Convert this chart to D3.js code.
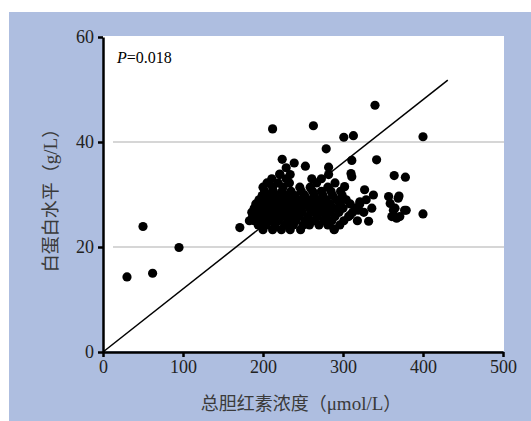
<!DOCTYPE html>
<html>
<head>
<meta charset="utf-8">
<script src="https://cdn.jsdelivr.net/npm/d3@7"></script>
<style>
  body { margin: 0; background: #fff; }
  svg { display: block; }
</style>
</head>
<body>
<div id="chart"></div>
<script>
const xTicks = [0, 100, 200, 300, 400, 500];
const yTicks = [0, 20, 40, 60];
const gridValues = [20, 40];

// outliers
const outX = [30, 50, 62, 95, 171, 212, 263, 301, 313, 340, 400, 279, 342, 311, 224, 239, 253, 282, 364, 378, 310, 229, 221,
  400, 332, 289, 302, 327, 338, 357, 370, 359, 363, 379, 363, 371, 336, 319, 309, 321, 311, 369, 365, 377, 361, 367];
const outY = [14.3, 23.9, 15.0, 19.9, 23.7, 42.5, 43.1, 40.9, 41.2, 47.0, 41.0, 38.7, 36.6, 36.5, 36.7, 36.0, 35.4, 35.2, 33.6, 33.3, 34.0, 35.1, 33.9,
  26.3, 24.9, 23.4, 31.5, 30.9, 29.9, 29.6, 29.7, 28.3, 27.0, 27.0, 25.8, 25.8, 27.4, 27.0, 26.1, 28.6, 33.4, 29.3, 27.4, 27.0, 25.8, 25.5];

// dense cluster, row by row
const clusterRows = [
  [23.3, [200, 212, 223, 234, 247, 289]],
  [24.2, [194, 204, 215, 227, 238, 250, 258, 270, 281, 296]],
  [25.0, [183, 189, 199, 209, 219, 231, 241, 253, 264, 276, 286, 301, 318]],
  [25.8, [187, 196, 205, 214, 224, 235, 245, 256, 268, 279, 290, 307]],
  [26.6, [186, 193, 202, 212, 220, 229, 240, 249, 261, 272, 283, 295, 312, 326]],
  [27.4, [189, 198, 207, 216, 226, 236, 247, 258, 266, 277, 288, 300, 316]],
  [28.2, [191, 201, 211, 221, 231, 242, 252, 263, 274, 284, 296, 309, 321]],
  [29.0, [195, 205, 215, 225, 236, 246, 257, 268, 279, 292, 304, 329]],
  [29.8, [199, 209, 219, 229, 240, 252, 264, 275, 287, 299]],
  [30.6, [202, 213, 224, 235, 248, 262, 273, 285, 297]],
  [31.4, [200, 212, 225, 246, 259, 281]],
  [32.2, [205, 219, 233, 267, 290]],
  [33.0, [211, 229, 261, 273]],
  [33.8, [221, 234, 282]]
];

const fitX = [0, 431];
const fitY = [0, 51.8];

const points = outX.map((x, i) => ({ x: x, y: outY[i] }));
clusterRows.forEach(r => r[1].forEach(x => points.push({ x: x, y: r[0] })));

const width = 531, height = 421;
const svg = d3.select("#chart").append("svg")
  .attr("width", width)
  .attr("height", height);

svg.append("rect")
  .attr("x", 9).attr("y", 12)
  .attr("width", width - 9).attr("height", height - 12)
  .attr("fill", "#aebee0");

const x = d3.scaleLinear().domain([0, 500]).range([103, 503]);
const y = d3.scaleLinear().domain([0, 60]).range([352, 37]);

svg.append("rect")
  .attr("x", 103).attr("y", 36)
  .attr("width", 401).attr("height", 315)
  .attr("fill", "#fff");

svg.selectAll(".grid")
  .data(gridValues)
  .enter().append("line")
  .attr("x1", 113).attr("x2", 504)
  .attr("y1", d => y(d)).attr("y2", d => y(d))
  .attr("stroke", "#d6d6d6")
  .attr("stroke-width", 2);

const serif = "'Liberation Serif', 'DejaVu Serif', serif";
const cjk = "'Noto Sans CJK SC', sans-serif";

const xAxis = svg.append("g")
  .attr("transform", `translate(0,${y(0)})`)
  .call(d3.axisBottom(x).tickValues(xTicks).tickSize(5).tickSizeOuter(0).tickPadding(3));
const yAxis = svg.append("g")
  .attr("transform", `translate(${x(0)},0)`)
  .call(d3.axisLeft(y).tickValues(yTicks).tickSize(5).tickSizeOuter(0).tickPadding(4));

[xAxis, yAxis].forEach(g => {
  g.select(".domain").attr("stroke", "#000").attr("stroke-width", 2.5);
  g.selectAll(".tick line").attr("stroke", "#000").attr("stroke-width", 2.5);
  g.selectAll(".tick text")
    .attr("fill", "#222")
    .style("font-family", serif)
    .style("font-size", "18px");
});

svg.append("path")
  .datum(fitX.map((v, i) => [v, fitY[i]]))
  .attr("d", d3.line().x(d => x(d[0])).y(d => y(d[1])))
  .attr("stroke", "#000")
  .attr("stroke-width", 1.5)
  .attr("fill", "none");

svg.selectAll(".dot")
  .data(points)
  .enter().append("circle")
  .attr("cx", d => x(d.x))
  .attr("cy", d => y(d.y))
  .attr("r", 4.6)
  .attr("fill", "#000");

const p = svg.append("text")
  .attr("x", 117).attr("y", 63)
  .style("font-family", serif)
  .style("font-size", "16px")
  .attr("fill", "#000");
p.append("tspan").style("font-style", "italic").text("P");
p.append("tspan").text("=0.018");

// axis titles: CJK part in sans, latin part in serif
function title(sel, cn, unit) {
  sel.attr("text-anchor", "middle")
    .style("font-size", "18px")
    .attr("fill", "#3a3a3a");
  sel.append("tspan").style("font-family", cjk).text(cn + "（");
  sel.append("tspan").style("font-family", serif).style("font-size", "19px").text(unit);
  sel.append("tspan").style("font-family", cjk).text("）");
}

title(svg.append("text").attr("x", 301).attr("y", 410), "总胆红素浓度", "μmol/L");
title(svg.append("text").attr("transform", "translate(57,196) rotate(-90)"), "白蛋白水平", "g/L");
</script>
</body>
</html>
